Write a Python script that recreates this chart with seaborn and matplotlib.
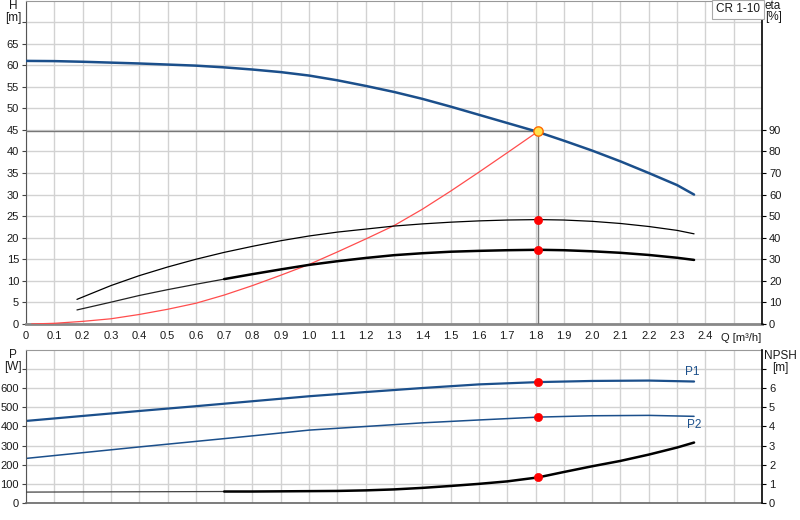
import matplotlib
matplotlib.use("Agg")
import matplotlib.pyplot as plt
import seaborn as sns

# pump curve H [m]
q_h = [0, 0.1, 0.2, 0.3, 0.4, 0.5, 0.6, 0.7, 0.8, 0.9, 1.0, 1.1, 1.2, 1.3,
       1.4, 1.5, 1.6, 1.7, 1.8, 1.9, 2.0, 2.1, 2.2, 2.3, 2.36]
h = [61.0, 60.95, 60.8, 60.6, 60.4, 60.15, 59.9, 59.5, 59.0, 58.4, 57.6, 56.5,
     55.2, 53.8, 52.2, 50.4, 48.5, 46.6, 44.7, 42.5, 40.2, 37.7, 35.0, 32.2, 30.0]

# system curve [m]
q_sys = [0.02, 0.1, 0.2, 0.3, 0.4, 0.5, 0.6, 0.7, 0.8, 0.9, 1.0, 1.1, 1.2,
         1.3, 1.4, 1.5, 1.6, 1.7, 1.81]
h_sys = [0.0, 0.15, 0.6, 1.2, 2.2, 3.4, 4.8, 6.7, 8.9, 11.3, 13.8, 16.7, 19.7,
         22.8, 26.6, 30.8, 35.2, 39.7, 44.7]

# efficiency curves [%]
q_eta = [0.18, 0.3, 0.4, 0.5, 0.6, 0.7, 0.8, 0.9, 1.0, 1.1, 1.2, 1.3, 1.4,
         1.5, 1.6, 1.7, 1.81, 1.9, 2.0, 2.1, 2.2, 2.3, 2.36]
eta_pump = [11.4, 17.8, 22.4, 26.4, 30.0, 33.2, 36.0, 38.6, 40.8, 42.6, 44.0,
            45.4, 46.4, 47.2, 47.8, 48.2, 48.4, 48.2, 47.6, 46.6, 45.2, 43.4, 41.8]
eta_total = [6.5, 10.1, 13.2, 15.9, 18.4, 20.8, 23.1, 25.3, 27.4, 29.1, 30.6,
             31.9, 32.8, 33.5, 33.9, 34.2, 34.4, 34.2, 33.7, 33.0, 32.0, 30.7, 29.7]

# power curves [W]
q_p = [0, 0.2, 0.4, 0.6, 0.8, 1.0, 1.2, 1.4, 1.6, 1.81, 2.0, 2.2, 2.36]
p1 = [429, 455, 481, 506, 532, 558, 580, 601, 620, 632, 638, 640, 635]
p2 = [233, 263, 293, 322, 351, 381, 400, 419, 434, 449, 456, 458, 453]

# NPSH [m]
q_npsh = [0, 0.7, 0.8, 0.9, 1.0, 1.1, 1.2, 1.3, 1.4, 1.5, 1.6, 1.7, 1.81, 1.9,
          2.0, 2.1, 2.2, 2.3, 2.36]
npsh = [0.57, 0.6, 0.6, 0.61, 0.62, 0.63, 0.66, 0.71, 0.79, 0.89, 1.0, 1.13,
        1.34, 1.62, 1.92, 2.2, 2.53, 2.9, 3.16]

q_duty = 1.81
h_duty = 44.7

q_ticks = [i / 10 for i in range(26)]
q_labels = ["0"] + [f"{t:.1f}" for t in q_ticks[1:25]] + [""]

BLUE = "#1b4f8b"
GRID = "#d2d2d2"
TXT = "#1a1a1a"
FS = 8

sns.set_style("white")
plt.rcParams["font.family"] = ["Liberation Sans", "DejaVu Sans"]

fig = plt.figure(figsize=(8, 5.2), dpi=100)
ax1 = fig.add_axes([0.0325, 0.377, 0.92, 0.622])
ax1r = ax1.twinx()
ax2 = fig.add_axes([0.0325, 0.0327, 0.92, 0.2943])
ax2r = ax2.twinx()

# ---- top panel ----
ax1.set_xlim(0, 2.6)
ax1.set_ylim(0, 75)
ax1r.set_ylim(0, 150)

ax1.plot([0, q_duty], [h_duty, h_duty], color="#777777", lw=1, zorder=3)
ax1.plot([q_duty, q_duty], [0, h_duty], color="#777777", lw=1, zorder=3)

sns.lineplot(x=q_sys, y=h_sys, ax=ax1, color="#ff4d4d", linewidth=0.9, zorder=4)
sns.lineplot(x=q_h, y=h, ax=ax1, color=BLUE, linewidth=1.8, zorder=5)
sns.scatterplot(x=[q_duty], y=[h_duty], ax=ax1, color="#ffe14d", edgecolor="#ff6a00",
                s=45, linewidth=1, zorder=6)

sns.lineplot(x=q_eta, y=eta_pump, ax=ax1r, color="black", linewidth=0.9)
thin = q_eta.index(0.7)
sns.lineplot(x=q_eta[:thin + 1], y=eta_total[:thin + 1], ax=ax1r, color="#222222",
             linewidth=0.9)
sns.lineplot(x=q_eta[thin:], y=eta_total[thin:], ax=ax1r, color="black", linewidth=1.8)
i_d = q_eta.index(q_duty)
sns.scatterplot(x=[q_duty, q_duty], y=[eta_pump[i_d], eta_total[i_d]], ax=ax1r,
                color="red", edgecolor="red", s=35, zorder=6)

ax1.set_xticks(q_ticks)
ax1.set_xticklabels(q_labels)
ax1.set_yticks(list(range(0, 75, 5)))
ax1.set_yticklabels([str(v) for v in range(0, 70, 5)] + [""])
ax1r.set_yticks(list(range(0, 100, 10)))
ax1.grid(True, color=GRID, lw=1)
ax1.set_xlabel("")
ax1.set_ylabel("")
ax1r.set_ylabel("")

# ---- bottom panel ----
ax2.set_xlim(0, 2.6)
ax2.set_ylim(0, 800)
ax2r.set_ylim(0, 8)

sns.lineplot(x=q_p, y=p1, ax=ax2, color=BLUE, linewidth=1.6)
sns.lineplot(x=q_p, y=p2, ax=ax2, color=BLUE, linewidth=1.1)
i_p = q_p.index(q_duty)
sns.scatterplot(x=[q_duty, q_duty], y=[p1[i_p], p2[i_p]], ax=ax2, color="red",
                edgecolor="red", s=35, zorder=6)

sns.lineplot(x=q_npsh[:2], y=npsh[:2], ax=ax2r, color="#444444", linewidth=0.9)
sns.lineplot(x=q_npsh[1:], y=npsh[1:], ax=ax2r, color="black", linewidth=1.8)
i_n = q_npsh.index(q_duty)
sns.scatterplot(x=[q_duty], y=[npsh[i_n]], ax=ax2r, color="red", edgecolor="red",
                s=35, zorder=6)

ax2.set_xticks(q_ticks)
ax2.set_xticklabels([])
ax2.set_yticks(list(range(0, 800, 100)))
ax2.set_yticklabels([str(v) for v in range(0, 700, 100)] + [""])
ax2r.set_yticks(list(range(0, 8)))
ax2r.set_yticklabels([str(v) for v in range(0, 7)] + [""])
ax2.grid(True, color=GRID, lw=1)
ax2.set_ylabel("")
ax2r.set_ylabel("")

ax2.text(2.355, 655, "P1", color=BLUE, fontsize=FS + 0.5, ha="center", va="bottom")
ax2.text(2.36, 440, "P2", color=BLUE, fontsize=FS + 0.5, ha="center", va="top")

# ---- axes styling ----
for ax in (ax1, ax2):
    ax.tick_params(axis="both", length=3, width=0.8, pad=2, labelsize=FS,
                   colors="#444444", labelcolor=TXT)
    ax.spines["left"].set_color("#555555")
    ax.spines["top"].set_color("#999999")
    ax.spines["right"].set_visible(False)
ax1.spines["bottom"].set_color("#888888")
ax1.spines["bottom"].set_linewidth(2)
ax2.spines["bottom"].set_color("#666666")
ax2.spines["bottom"].set_linewidth(1.2)
for ax in (ax1r, ax2r):
    ax.tick_params(axis="y", length=3, width=0.8, pad=2, labelsize=FS,
                   colors="black", labelcolor=TXT)
    ax.spines["right"].set_color("black")
    ax.spines["right"].set_linewidth(1.2)
    for s in ("left", "top", "bottom"):
        ax.spines[s].set_visible(False)

ax1.text(2.455, -2.2, "Q [m³/h]", fontsize=FS, color=TXT, ha="left", va="top")

# unit labels
def unit(x, y, s):
    fig.text(x / 800, 1 - y / 520, s, fontsize=FS + 0.5, color=TXT, ha="center",
             va="center")

unit(13, 6, "H")
unit(13, 18, "[m]")
unit(773, 6, "eta")
unit(774, 17, "[%]")
unit(13, 355, "P")
unit(13, 367, "[W]")
unit(780, 356, "NPSH")
unit(780, 368, "[m]")

fig.text(0.950, 0.994, "CR 1-10", fontsize=FS + 0.5, color=TXT, ha="right", va="top",
         bbox=dict(boxstyle="square,pad=0.3", fc="white", ec="#aaaaaa", lw=0.8))

fig.savefig("out.png", dpi=100)
